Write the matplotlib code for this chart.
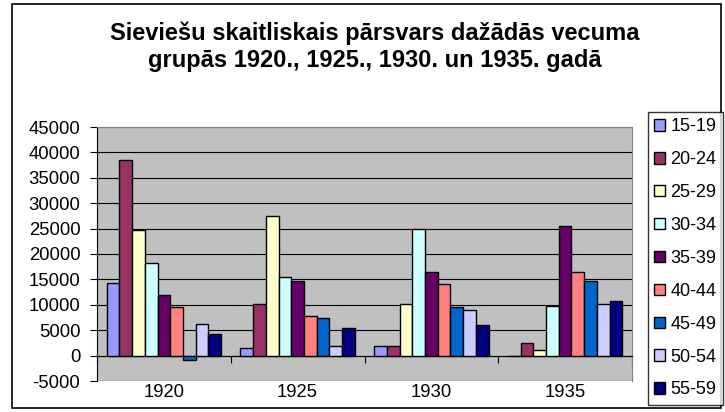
import matplotlib.pyplot as plt
import numpy as np
from matplotlib.patches import Rectangle

plt.rcParams['font.family'] = ['Liberation Sans', 'DejaVu Sans']
plt.rcParams['axes.unicode_minus'] = False

years = ['1920', '1925', '1930', '1935']
age_groups = ['15-19', '20-24', '25-29', '30-34', '35-39',
              '40-44', '45-49', '50-54', '55-59']

# values per age group, one per year
g15_19 = [14300, 1450, 1800, 0]
g20_24 = [38500, 10200, 1800, 2400]
g25_29 = [24800, 27400, 10200, 1200]
g30_34 = [18200, 15500, 25000, 9800]
g35_39 = [12000, 14600, 16400, 25600]
g40_44 = [9600, 7800, 14100, 16400]
g45_49 = [-800, 7400, 9600, 14600]
g50_54 = [6300, 1800, 9000, 10100]
g55_59 = [4200, 5400, 6000, 10700]

series = [g15_19, g20_24, g25_29, g30_34, g35_39, g40_44, g45_49, g50_54, g55_59]
colors = ['#9999ff', '#993366', '#ffffcc', '#ccffff', '#660066',
          '#ff8080', '#0066cc', '#ccccff', '#000080']

W, H = 725, 412
fig = plt.figure(figsize=(W / 100, H / 100), dpi=100)
ax = fig.add_axes([97 / W, 31 / H, (632 - 97) / W, (381 - 127) / H])
ax.set_facecolor('#c0c0c0')

x = np.arange(len(years))
width = 1 / 10.5
for i, (vals, c, lab) in enumerate(zip(series, colors, age_groups)):
    ax.bar(x + (i - 4) * width, vals, width, color=c, edgecolor='black',
           linewidth=1, label=lab, zorder=3)

ax.set_xlim(-0.5, 3.5)
ax.set_ylim(-5000, 45000)
ax.set_yticks(np.arange(-5000, 45001, 5000))
ax.yaxis.grid(True, color='black', linewidth=0.8)
ax.set_axisbelow(True)
ax.tick_params(axis='y', direction='out', length=5, pad=7, labelsize=13.3)

# category axis crosses at zero, labels at the bottom
ax.spines['bottom'].set_position(('data', 0))
ax.spines['bottom'].set_color('black')
ax.spines['left'].set_color('black')
for s in ['top', 'right']:
    ax.spines[s].set_color('#808080')
ax.set_xticks(np.arange(-0.5, 3.6, 1))
ax.tick_params(axis='x', direction='out', length=5, labelbottom=False)

secax = ax.secondary_xaxis(0)
secax.set_xticks(x, labels=years)
secax.tick_params(length=0, labelsize=13.3, pad=2)
secax.spines['bottom'].set_visible(False)

fig.text(375 / W, 1 - 47 / H,
         'Sieviešu skaitliskais pārsvars dažādās vecuma\ngrupās 1920., 1925., 1930. un 1935. gadā',
         ha='center', va='center', fontsize=17, fontweight='bold', linespacing=1.2)

leg = fig.legend(loc='upper left', bbox_to_anchor=(648 / W, 1 - 112 / H),
                 frameon=True, fancybox=False, edgecolor='black', fontsize=13,
                 handlelength=0.6, handleheight=0.6, handletextpad=0.3,
                 labelspacing=0.88, borderpad=0.35, borderaxespad=0)
leg.get_frame().set_linewidth(1)

fig.patches.append(Rectangle((12 / W, 4 / H), (721 - 12) / W, (408 - 4) / H,
                             transform=fig.transFigure, fill=False,
                             edgecolor='black', linewidth=1.2))

plt.savefig('out.png', dpi=100)
